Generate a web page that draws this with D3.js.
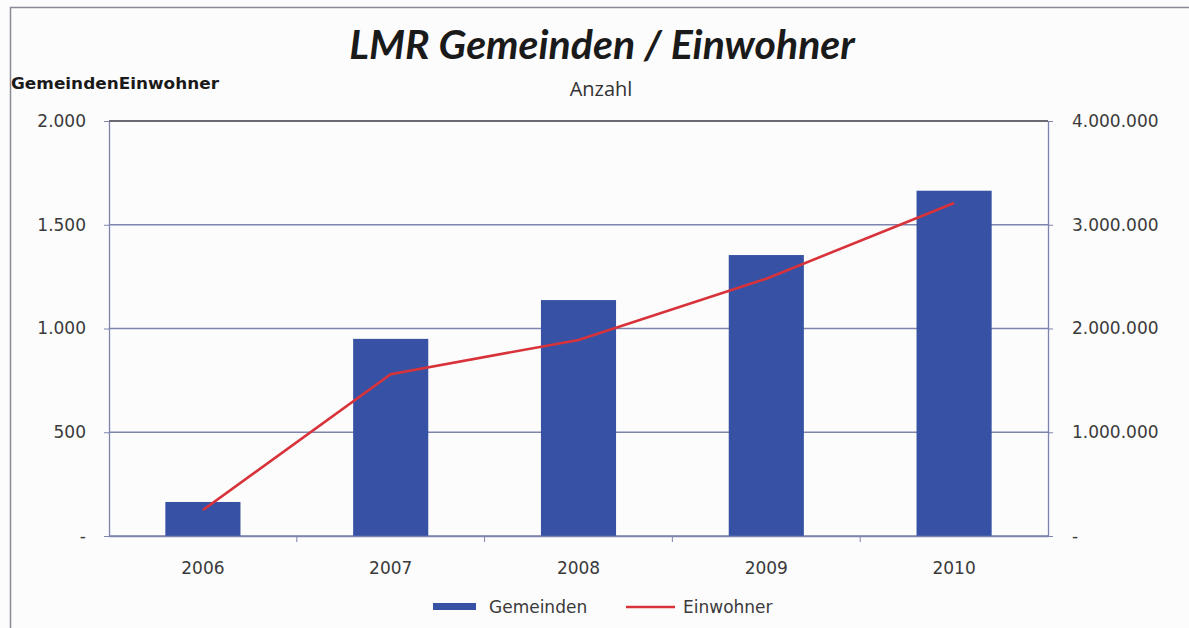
<!DOCTYPE html>
<html>
  <head>
    <title>LMR Gemeinden / Einwohner</title>
    <script src="https://d3js.org/d3.v7.min.js"></script>
    <style>
      body { margin: 0; background: #fcfcfc; }
      svg { display: block; }
      text { font-family: "DejaVu Sans", sans-serif; fill: #333; }
    </style>
  </head>
  <body>
    <svg></svg>
    <script>
      // data
      const years = ['2006', '2007', '2008', '2009', '2010'];
      const gemeinden = [164, 950, 1137, 1354, 1664];
      const einwohner = [250000, 1560000, 1890000, 2480000, 3210000];
      const leftTicks = [0, 500, 1000, 1500, 2000];
      const rightTicks = [0, 1000000, 2000000, 3000000, 4000000];

      const svg = d3.select('svg')
        .attr('width', 1189)
        .attr('height', 628);

      var margin = { top: 121, right: 141, bottom: 92, left: 109 };
      var innerWidth = 1189 - margin.left - margin.right;
      var innerHeight = 628 - margin.top - margin.bottom;

      // outer chart frame (only top and left edges are visible)
      svg.append('path')
        .attr('d', 'M10.5,628 V7.5 H1189')
        .attr('fill', 'none')
        .attr('stroke', '#8a8a96')
        .attr('stroke-width', 1.5);

      const fmt = v => v === 0 ? '-' : d3.format(',')(v).replace(/,/g, '.');

      const xScale = d3.scaleBand()
        .domain(years)
        .range([0, innerWidth]);

      const yLeft = d3.scaleLinear()
        .domain([0, 2000])
        .range([innerHeight, 0]);

      const yRight = d3.scaleLinear()
        .domain([0, 4000000])
        .range([innerHeight, 0]);

      const g = svg.append('g')
        .attr('transform', `translate(${margin.left},${margin.top})`);

      // gridlines
      g.selectAll('.grid').data(leftTicks)
        .enter().append('line')
          .attr('x1', 0).attr('x2', innerWidth)
          .attr('y1', d => yLeft(d)).attr('y2', d => yLeft(d))
          .attr('stroke', d => d === 2000 ? '#3a3a48' : '#7d84ae')
          .attr('stroke-width', 1.3);

      // bars
      const barW = xScale.bandwidth() / 2.5;
      g.selectAll('.bar').data(years)
        .enter().append('rect')
          .attr('x', d => xScale(d) + xScale.bandwidth() / 2 - barW / 2)
          .attr('y', (d, i) => yLeft(gemeinden[i]))
          .attr('width', barW)
          .attr('height', (d, i) => innerHeight - yLeft(gemeinden[i]))
          .attr('fill', '#3752a4');

      // line
      const line = d3.line()
        .x((d, i) => xScale(years[i]) + xScale.bandwidth() / 2)
        .y(d => yRight(d));

      g.append('path')
        .datum(einwohner)
        .attr('d', line)
        .attr('fill', 'none')
        .attr('stroke', '#d8323a')
        .attr('stroke-width', 2.6);

      // axes
      const leftAxis = d3.axisLeft(yLeft)
        .tickValues(leftTicks)
        .tickFormat(fmt)
        .tickSize(5)
        .tickSizeOuter(0)
        .tickPadding(18);
      const leftG = g.append('g').call(leftAxis);

      const rightAxis = d3.axisRight(yRight)
        .tickValues(rightTicks)
        .tickFormat(fmt)
        .tickSize(5)
        .tickSizeOuter(0)
        .tickPadding(19);
      const rightG = g.append('g')
        .attr('transform', `translate(${innerWidth},0)`)
        .call(rightAxis);

      const bottomAxis = d3.axisBottom(xScale)
        .tickSize(0)
        .tickPadding(26);
      const bottomG = g.append('g')
        .attr('transform', `translate(0,${innerHeight})`)
        .call(bottomAxis);

      // category boundary ticks
      g.selectAll('.xtick').data(years.slice(1))
        .enter().append('line')
          .attr('x1', d => xScale(d)).attr('x2', d => xScale(d))
          .attr('y1', innerHeight).attr('y2', innerHeight + 6)
          .attr('stroke', '#7d84ae');

      [leftG, rightG, bottomG].forEach(a => {
        a.attr('font-size', 17).attr('font-family', '"DejaVu Sans", sans-serif');
        a.selectAll('.domain').attr('stroke', '#7d84ae').attr('stroke-width', 1.3);
        a.selectAll('line').attr('stroke', '#7d84ae');
        a.selectAll('text').style('fill', '#3a3a3a');
      });

      // titles
      svg.append('text')
        .attr('x', 602).attr('y', 59)
        .attr('text-anchor', 'middle')
        .style('font-family', 'Lato, sans-serif')
        .style('font-weight', 'bold')
        .style('font-style', 'italic')
        .style('font-size', '41px')
        .style('fill', '#1a1a1a')
        .text('LMR Gemeinden / Einwohner');

      svg.append('text')
        .attr('x', 601).attr('y', 96)
        .attr('text-anchor', 'middle')
        .style('font-family', '"Open Sans", sans-serif')
        .style('font-size', '20px')
        .style('fill', '#333')
        .text('Anzahl');

      svg.append('text')
        .attr('x', 11).attr('y', 89)
        .attr('textLength', 208)
        .attr('lengthAdjust', 'spacingAndGlyphs')
        .style('font-family', '"DejaVu Sans", sans-serif')
        .style('font-weight', 'bold')
        .style('font-size', '15px')
        .style('fill', '#1a1a1a')
        .text('GemeindenEinwohner');

      // legend
      const legend = svg.append('g').style('font-size', '17px');
      legend.append('rect')
        .attr('x', 433).attr('y', 603)
        .attr('width', 43).attr('height', 7)
        .attr('fill', '#3752a4');
      legend.append('text')
        .attr('x', 489).attr('y', 613)
        .style('fill', '#3a3a3a')
        .text('Gemeinden');
      legend.append('line')
        .attr('x1', 626).attr('x2', 675)
        .attr('y1', 607).attr('y2', 607)
        .attr('stroke', '#d8323a')
        .attr('stroke-width', 2.5);
      legend.append('text')
        .attr('x', 683).attr('y', 613)
        .style('fill', '#3a3a3a')
        .text('Einwohner');
    </script>
  </body>
</html>
